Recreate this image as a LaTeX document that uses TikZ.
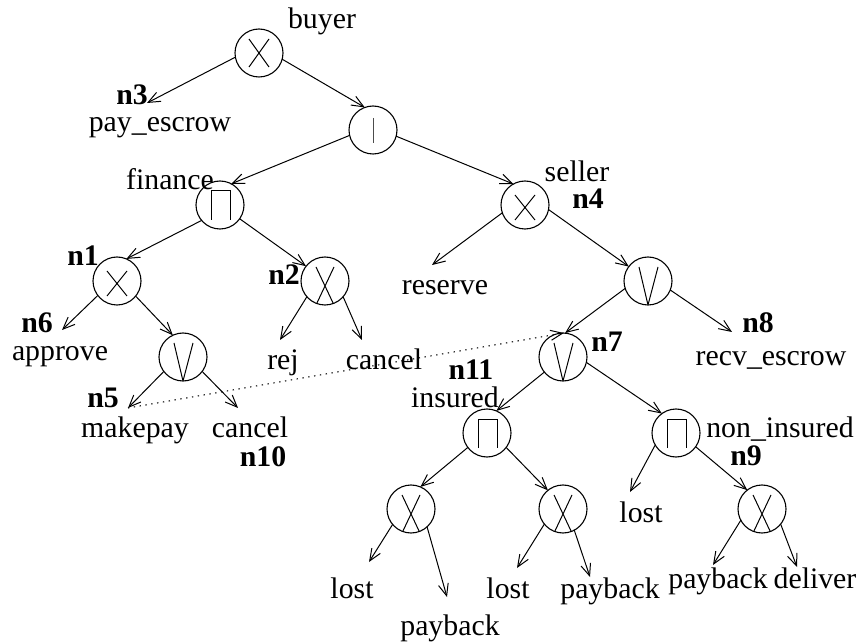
\documentclass[tikz,border=0pt]{standalone}
\usepackage{fontspec}
\setmainfont{Liberation Serif}
\usetikzlibrary{arrows.meta}
\begin{document}
\begin{tikzpicture}[x=1pt,y=-1pt,
  font=\fontsize{29.8}{34}\selectfont,
  gate/.style={circle, draw, line width=1.1pt, minimum size=48pt, inner sep=0pt, outer sep=0pt},
  sym/.style={line width=1pt},
  xhi/.style={gate, path picture={\draw[sym, shift={(path picture bounding box.center)}]
      (-10pt,14pt)--(10pt,-14pt) (10pt,14pt)--(-10pt,-14pt);}},
  xmid/.style={gate, path picture={\draw[sym, shift={(path picture bounding box.center)}]
      (-10pt,10pt)--(10pt,-15pt) (10pt,10pt)--(-10pt,-15pt);}},
  xlow/.style={gate, path picture={\draw[sym, shift={(path picture bounding box.center)}]
      (-9pt,14pt)--(9pt,-24pt) (9pt,14pt)--(-9pt,-24pt);}},
  vee/.style={gate, path picture={\draw[sym, shift={(path picture bounding box.center)}]
      (-9pt,14pt)--(0pt,-24pt)--(10pt,14pt);}},
  meet/.style={gate, path picture={\draw[sym, shift={(path picture bounding box.center)}]
      (-9pt,-15pt)--(-9pt,14pt)--(10pt,14pt)--(10pt,-15pt);}},
  bargate/.style={gate, path picture={\draw[sym, black!70, shift={(path picture bounding box.center)}]
      (0pt,12pt)--(0pt,-13pt);}},
  lbl/.style={anchor=base, inner sep=0pt},
  bid/.style={lbl, font=\fontsize{29.8}{34}\selectfont\bfseries},
  arr/.style={line width=1pt, -{Straight Barb[length=12pt, width=10pt, line width=1pt]}},
  link/.style={line width=1.1pt, dash pattern=on 1.3pt off 4.6pt, -{Straight Barb[length=12pt, width=10pt, line width=1pt]}}
]
\useasboundingbox (0,0) rectangle (868,644);

% operator nodes
\node[xhi]     (buyer)  at (259,53)  {};
\node[bargate] (bar)    at (373,130) {};
\node[meet]    (fin)    at (220,205) {};
\node[xmid]    (seller) at (525,205) {};
\node[xmid]    (n1g)    at (117,281) {};
\node[xlow]    (n2g)    at (325,281) {};
\node[vee]     (vr)     at (648,281) {};
\node[vee]     (v5)     at (183,357) {};
\node[vee]     (n7g)    at (563,357) {};
\node[meet]    (ins)    at (487,433) {};
\node[meet]    (nins)   at (676,433) {};
\node[xlow]    (xl)     at (411,509) {};
\node[xlow]    (xr)     at (563,509) {};
\node[xlow]    (n9g)    at (762,509) {};

% role and node labels
\node[lbl] (tbuyer)  at (322,29)  {buyer};
\node[bid] (ln3)     at (132,105) {n3};
\node[lbl] (lpayesc) at (160,132) {pay\_escrow};
\node[lbl] (tfin)    at (170,190) {finance};
\node[lbl] (tseller) at (577,182) {seller};
\node[bid] (ln4)     at (588,209) {n4};
\node[lbl] (lres)    at (445,295) {reserve};
\node[bid] (ln1)     at (83,266)  {n1};
\node[bid] (ln2)     at (284,285) {n2};
\node[bid] (ln6)     at (37,333)  {n6};
\node[lbl] (lapp)    at (60,361)  {approve};
\node[lbl] (lrej)    at (283,370) {rej};
\node[lbl] (lcan2)   at (384,370) {cancel};
\node[bid] (ln8)     at (758,333) {n8};
\node[lbl] (lrecv)   at (771,366) {recv\_escrow};
\node[bid] (ln5)     at (103,408) {n5};
\node[lbl] (lmk)     at (135,437) {makepay};
\node[lbl] (lcan5)   at (250,437) {cancel};
\node[bid] (ln10)    at (263,466) {n10};
\node[bid] (ln7)     at (607,352) {n7};
\node[bid] (ln11)    at (471,380) {n11};
\node[lbl] (tins)    at (455,408) {insured};
\node[lbl] (tnins)   at (780,437) {non\_insured};
\node[bid] (ln9)     at (746,465) {n9};
\node[lbl] (lnl)     at (641,522) {lost};
\node[lbl] (lll)     at (352,598) {lost};
\node[lbl] (llp)     at (450,635) {payback};
\node[lbl] (lrl)     at (508,598) {lost};
\node[lbl] (lrp)     at (610,598) {payback};
\node[lbl] (lnp)     at (718,588) {payback};
\node[lbl] (lnd)     at (815,588) {deliver};

% arrow tips at the leaves
\coordinate (t3)    at (147,103);
\coordinate (tn6)   at (62,330);
\coordinate (trej)  at (280,340);
\coordinate (tcan2) at (362,340);
\coordinate (tmk)   at (128,408);
\coordinate (tcan5) at (238,408);
\coordinate (tres)  at (432,265);
\coordinate (tn8)   at (732,332);
\coordinate (tll)   at (369,562);
\coordinate (tlp)   at (447,597);
\coordinate (trl)   at (517,568);
\coordinate (trp)   at (590,577);
\coordinate (tnl)   at (630,492);
\coordinate (tnp)   at (713,565);
\coordinate (tnd)   at (797,567);

% tree edges
\draw[arr] (buyer.190) -- (t3);
\draw[arr] (buyer.-15) -- (bar.110);
\draw[arr] (bar.193) -- (fin.62);
\draw[arr] (bar.-15) -- (seller.119);
\draw[arr] (fin.220) -- (n1g.67);
\draw[arr] (fin.-35) -- (n2g.142);
\draw[arr] (n1g.217) -- (tn6);
\draw[arr] (n1g.-39) -- (v5.115);
\draw[arr] (n2g.221) -- (trej);
\draw[arr] (n2g.-41) -- (tcan2);
\draw[arr] (v5.217) -- (tmk);
\draw[arr] (v5.-37) -- (tcan5);
\draw[arr] (seller.199) -- (tres);
\draw[arr] (seller.-11) -- (vr.143);
\draw[arr] (vr.198) -- (n7g.85);
\draw[arr] (vr.-22) -- (tn8);
\draw[arr] (n7g.219) -- (ins.67);
\draw[arr] (n7g.-13) -- (nins.126);
\draw[arr] (ins.217) -- (xl.67);
\draw[arr] (ins.-37) -- (xr.129);
\draw[arr] (nins.210) -- (tnl);
\draw[arr] (nins.-35) -- (n9g.128);
\draw[arr] (xl.220) -- (tll);
\draw[arr] (xl.-48) -- (tlp);
\draw[arr] (xr.219) -- (trl);
\draw[arr] (xr.-62) -- (trp);
\draw[arr] (n9g.208) -- (tnp);
\draw[arr] (n9g.-39) -- (tnd);

% dotted link from makepay to n7
\draw[link] (tmk) -- (n7g.88);
\end{tikzpicture}
\end{document}
